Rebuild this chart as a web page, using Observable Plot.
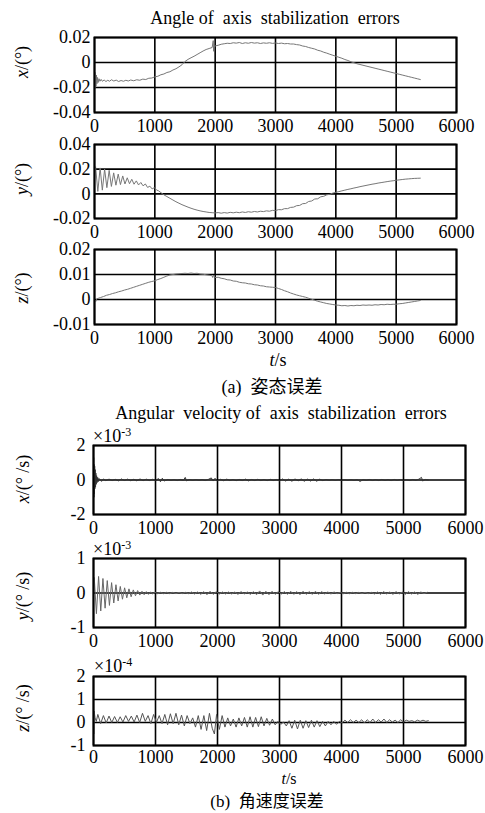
<!DOCTYPE html>
<html>
<head>
<meta charset="utf-8">
<script src="https://cdn.jsdelivr.net/npm/d3@7"></script>
<script src="https://cdn.jsdelivr.net/npm/@observablehq/plot@0.6"></script>
<style>
  html, body { margin: 0; padding: 0; background: white; }
  #root { position: relative; width: 485px; height: 813px; overflow: hidden; background: white;
          font-family: "Liberation Serif", "DejaVu Serif", serif; color: black; }
  #root svg, #root svg text { font-family: "Liberation Serif", serif !important; font-size: 18px !important; }
  .t { position: absolute; white-space: pre; transform: translate(-50%, -50%); line-height: 1; }
  .r { position: absolute; white-space: pre; transform: translate(-50%, -50%) rotate(-90deg); line-height: 1; font-size: 18px; }
  .m { position: absolute; white-space: pre; font-size: 18px; line-height: 1; transform: translateY(-50%); }
  .m sup { font-size: 12px; vertical-align: 6px; line-height: 0; }
  .cjk { font-family: "Noto Sans CJK SC", sans-serif; line-height: 1; }
  svg { position: absolute; left: 0; }
</style>
</head>
<body>
<div id="root"></div>
<script>
// ---- data (t in s, value) ----
const xTicks = [0, 1000, 2000, 3000, 4000, 5000, 6000];

const angleX = [[0,-0.013],[8,-0.021],[16,-0.008],[24,-0.019],[32,-0.010],[40,-0.017],[50,-0.012],[60,-0.016],[75,-0.013],[90,-0.015],[110,-0.0135],[130,-0.0150],[160,-0.0140],[190,-0.0152],[220,-0.0142],[250,-0.0150],[280,-0.0138],[320,-0.0148],[360,-0.0141],[400,-0.0152],[440,-0.0144],[480,-0.0150],[520,-0.0142],[560,-0.0148],[600,-0.0140],[650,-0.0146],[700,-0.0138],[750,-0.0142],[800,-0.0133],[850,-0.0136],[900,-0.0126],[950,-0.0124],[1000,-0.0115],[1050,-0.0110],[1100,-0.0098],[1150,-0.0092],[1200,-0.0080],[1250,-0.0074],[1300,-0.0060],[1350,-0.0050],[1400,-0.0035],[1450,-0.0018],[1500,0.0008],[1550,0.0025],[1600,0.0038],[1650,0.0050],[1700,0.0064],[1750,0.0078],[1800,0.0092],[1850,0.0104],[1900,0.0112],[1950,0.0120],[1968,0.0175],[1974,0.0090],[1980,0.0130],[2050,0.0138],[2100,0.0146],[2150,0.0150],[2200,0.0154],[2250,0.0152],[2300,0.0158],[2350,0.0155],[2400,0.0160],[2450,0.0152],[2500,0.0158],[2550,0.0154],[2600,0.0160],[2650,0.0155],[2700,0.0158],[2750,0.0152],[2800,0.0157],[2850,0.0154],[2900,0.0158],[2950,0.0153],[3000,0.0156],[3050,0.0152],[3100,0.0155],[3150,0.0150],[3200,0.0152],[3250,0.0148],[3300,0.0148],[3350,0.0143],[3400,0.0140],[3450,0.0132],[3500,0.0128],[3550,0.0120],[3600,0.0114],[3650,0.0108],[3700,0.0098],[3750,0.0092],[3800,0.0082],[3850,0.0075],[3900,0.0066],[3950,0.0058],[4000,0.0050],[4050,0.0042],[4100,0.0034],[4150,0.0024],[4200,0.0016],[4250,0.0006],[4300,-0.0002],[4350,-0.0010],[4400,-0.0016],[4450,-0.0022],[4500,-0.0028],[4550,-0.0034],[4600,-0.0040],[4650,-0.0046],[4700,-0.0052],[4750,-0.0058],[4800,-0.0064],[4850,-0.0070],[4900,-0.0076],[4950,-0.0082],[5000,-0.0088],[5050,-0.0094],[5100,-0.0100],[5150,-0.0106],[5200,-0.0112],[5250,-0.0118],[5300,-0.0124],[5350,-0.0130],[5400,-0.0136]];

const angleY = [[0,0.012],[18,0.022],[55,0.002],[93,0.021],[130,0.003],[168,0.020],[205,0.005],[243,0.019],[280,0.006],[318,0.017],[355,0.007],[393,0.016],[430,0.0075],[468,0.0145],[505,0.0080],[543,0.0130],[580,0.0082],[618,0.0118],[655,0.0078],[693,0.0105],[730,0.0072],[768,0.0092],[805,0.0065],[843,0.0080],[880,0.0052],[918,0.0062],[955,0.0040],[993,0.0050],[1030,0.0030],[1060,0.0025],[1100,0.0010],[1150,-0.0008],[1200,-0.0022],[1250,-0.0036],[1300,-0.0050],[1350,-0.0064],[1400,-0.0076],[1450,-0.0088],[1500,-0.0098],[1550,-0.0108],[1600,-0.0117],[1650,-0.0125],[1700,-0.0132],[1750,-0.0138],[1800,-0.0143],[1850,-0.0147],[1900,-0.0151],[1950,-0.0153],[2000,-0.0155],[2050,-0.0152],[2100,-0.0157],[2150,-0.0152],[2200,-0.0156],[2250,-0.0150],[2300,-0.0154],[2350,-0.0149],[2400,-0.0153],[2450,-0.0147],[2500,-0.0151],[2550,-0.0145],[2600,-0.0149],[2650,-0.0143],[2700,-0.0147],[2750,-0.0141],[2800,-0.0144],[2850,-0.0138],[2900,-0.0141],[2950,-0.0134],[3000,-0.0136],[3050,-0.0128],[3100,-0.0129],[3150,-0.0120],[3200,-0.0120],[3250,-0.0110],[3300,-0.0108],[3350,-0.0096],[3400,-0.0094],[3450,-0.0080],[3500,-0.0078],[3550,-0.0062],[3600,-0.0058],[3650,-0.0042],[3700,-0.0040],[3750,-0.0024],[3800,-0.0020],[3850,-0.0008],[3900,-0.0004],[3950,0.0006],[4000,0.0012],[4050,0.0018],[4100,0.0024],[4150,0.0030],[4200,0.0036],[4250,0.0041],[4300,0.0047],[4350,0.0052],[4400,0.0058],[4450,0.0063],[4500,0.0068],[4550,0.0073],[4600,0.0078],[4650,0.0082],[4700,0.0087],[4750,0.0091],[4800,0.0095],[4850,0.0099],[4900,0.0103],[4950,0.0106],[5000,0.0110],[5050,0.0113],[5100,0.0116],[5150,0.0119],[5200,0.0121],[5250,0.0123],[5300,0.0125],[5350,0.0126],[5400,0.0127]];

const angleZ = [[0,0],[20,-0.0008],[40,0.0003],[100,0.0008],[150,0.0012],[200,0.0017],[250,0.0020],[300,0.0024],[350,0.0027],[400,0.0031],[450,0.0034],[500,0.0038],[550,0.0041],[600,0.0045],[650,0.0049],[700,0.0053],[750,0.0057],[800,0.0061],[850,0.0065],[900,0.0069],[950,0.0072],[1000,0.0075],[1050,0.0080],[1100,0.0084],[1150,0.0089],[1200,0.0094],[1250,0.0098],[1300,0.0100],[1350,0.0102],[1400,0.0103],[1450,0.0104],[1500,0.0105],[1550,0.0104],[1600,0.0106],[1650,0.0104],[1700,0.0105],[1750,0.0102],[1800,0.0101],[1850,0.0099],[1900,0.0097],[1950,0.0095],[1960,0.0088],[1975,0.0098],[2000,0.0088],[2050,0.0089],[2100,0.0085],[2150,0.0083],[2200,0.0079],[2250,0.0078],[2300,0.0074],[2350,0.0073],[2400,0.0069],[2450,0.0067],[2500,0.0066],[2550,0.0063],[2600,0.0062],[2650,0.0059],[2700,0.0058],[2750,0.0055],[2800,0.0054],[2850,0.0051],[2900,0.0050],[2950,0.0049],[3000,0.0048],[3050,0.0044],[3100,0.0040],[3150,0.0035],[3200,0.0031],[3250,0.0026],[3300,0.0022],[3350,0.0018],[3400,0.0015],[3450,0.0012],[3500,0.0009],[3550,0.0005],[3600,0.0001],[3650,-0.0003],[3700,-0.0007],[3750,-0.0010],[3800,-0.0013],[3850,-0.0016],[3900,-0.0018],[3950,-0.0020],[4000,-0.0022],[4050,-0.0023],[4100,-0.0025],[4150,-0.0024],[4200,-0.0026],[4250,-0.0024],[4300,-0.0025],[4350,-0.0023],[4400,-0.0024],[4450,-0.0022],[4500,-0.0023],[4550,-0.0022],[4600,-0.0023],[4650,-0.0021],[4700,-0.0022],[4750,-0.0020],[4800,-0.0021],[4850,-0.0019],[4900,-0.0020],[4950,-0.0019],[5000,-0.0019],[5050,-0.0017],[5100,-0.0016],[5150,-0.0014],[5200,-0.0012],[5250,-0.0010],[5300,-0.0008],[5350,-0.0006],[5400,-0.0004]];

// angular velocity errors, x and y in units of 1e-3, z in units of 1e-4
const rateX = [[0,0],[3,1.3],[7,-1.0],[11,0.9],[15,-0.8],[19,0.8],[23,-0.5],[28,0.6],[33,-0.4],[38,0.4],[44,-0.25],[50,0.25],[58,-0.15],[66,0.15],[75,-0.1],[85,0.1],[100,0.05],[130,-0.08],[160,0.06],[200,-0.04],[250,0.05],[300,-0.03],[350,0.04],[400,-0.05],[450,0.06],[500,-0.03],[550,0.05],[600,-0.04],[650,0.04],[700,-0.05],[750,0.06],[800,-0.04],[850,0.05],[900,-0.03],[950,0.04],[1000,-0.02],[1050,0.08],[1080,-0.1],[1110,0.1],[1140,-0.06],[1200,0.03],[1250,-0.02],[1300,0.02],[1350,-0.03],[1400,0.03],[1450,-0.02],[1480,0.15],[1500,-0.05],[1550,0.02],[1600,-0.02],[1650,0.02],[1700,-0.02],[1750,0.02],[1800,-0.03],[1850,0.03],[1900,0.12],[1930,-0.06],[1960,0.1],[2000,-0.05],[2050,0.04],[2100,-0.04],[2150,0.05],[2200,-0.03],[2250,0.03],[2300,-0.04],[2350,0.03],[2400,-0.03],[2450,0.05],[2500,-0.05],[2550,0.03],[2600,-0.03],[2650,0.04],[2700,-0.03],[2750,0.03],[2800,-0.04],[2850,0.04],[2900,-0.03],[2950,0.03],[3000,-0.05],[3050,0.06],[3100,-0.06],[3150,0.05],[3200,-0.07],[3250,0.06],[3300,-0.05],[3350,0.06],[3400,-0.07],[3450,0.05],[3500,-0.06],[3550,0.06],[3600,-0.07],[3650,0.05],[3700,-0.04],[3750,0.03],[3800,-0.02],[3850,0.02],[3900,-0.02],[3950,0.02],[4000,-0.02],[4050,0.02],[4100,-0.02],[4150,0.02],[4200,-0.02],[4250,0.02],[4300,-0.08],[4350,0.02],[4400,-0.02],[4450,0.03],[4500,-0.03],[4550,0.02],[4600,-0.03],[4650,0.03],[4700,-0.02],[4750,0.02],[4800,-0.03],[4850,0.03],[4900,-0.02],[4950,0.03],[5000,-0.02],[5050,0.02],[5100,-0.03],[5150,0.03],[5200,-0.02],[5250,0.05],[5290,0.15],[5310,-0.06],[5350,0.03],[5400,0.0]];

const rateY = [[0,0],[12,0.45],[47,-0.6],[82,0.48],[117,-0.52],[152,0.42],[187,-0.44],[222,0.36],[257,-0.36],[292,0.30],[327,-0.29],[362,0.24],[397,-0.23],[432,0.19],[467,-0.18],[502,0.15],[537,-0.14],[572,0.12],[607,-0.11],[642,0.09],[677,-0.08],[712,0.07],[747,-0.06],[782,0.05],[817,-0.05],[852,0.04],[887,-0.04],[922,0.03],[957,-0.03],[992,0.02],[1030,-0.02],[1080,0.02],[1130,-0.02],[1180,0.02],[1230,-0.02],[1280,0.02],[1330,-0.02],[1380,0.02],[1430,-0.02],[1480,0.02],[1530,-0.02],[1580,0.03],[1630,-0.03],[1680,0.03],[1730,-0.04],[1780,0.04],[1830,-0.05],[1880,0.05],[1930,-0.04],[1980,0.04],[2030,-0.03],[2080,0.03],[2130,-0.03],[2180,0.03],[2230,-0.03],[2280,0.03],[2330,-0.04],[2380,0.04],[2430,-0.03],[2480,0.03],[2530,-0.04],[2580,0.04],[2630,-0.05],[2680,0.06],[2730,-0.06],[2780,0.05],[2830,-0.05],[2880,0.05],[2930,-0.04],[2980,0.04],[3030,-0.03],[3080,0.04],[3130,-0.04],[3180,0.05],[3230,-0.04],[3280,0.04],[3330,-0.05],[3380,0.05],[3430,-0.04],[3480,0.04],[3530,-0.04],[3580,0.05],[3630,-0.04],[3680,0.04],[3730,-0.03],[3780,0.03],[3830,-0.03],[3880,0.03],[3930,-0.02],[3980,0.02],[4030,-0.02],[4080,0.02],[4130,-0.02],[4180,0.02],[4230,-0.02],[4280,0.02],[4330,-0.02],[4380,0.02],[4430,-0.02],[4480,0.02],[4530,-0.03],[4580,0.03],[4630,-0.04],[4680,0.04],[4730,-0.03],[4780,0.03],[4830,-0.04],[4880,0.04],[4930,-0.03],[4980,0.03],[5030,-0.04],[5080,0.04],[5130,-0.03],[5180,0.03],[5230,-0.04],[5280,0.03],[5330,-0.02],[5380,0.02]];

const rateZ = [[0,0.9],[5,-0.5],[10,0.5],[25,0.2],[45,0.05],[70,0.35],[115,-0.05],[160,0.3],[205,-0.02],[250,0.28],[295,0.0],[340,0.26],[385,0.0],[430,0.25],[475,0.02],[520,0.3],[565,0.05],[610,0.28],[655,0.02],[700,0.32],[745,0.0],[790,0.4],[835,0.05],[880,0.3],[925,-0.05],[970,0.35],[1015,0.0],[1060,0.3],[1105,-0.05],[1150,0.35],[1195,-0.1],[1240,0.38],[1285,-0.05],[1330,0.4],[1375,-0.1],[1420,0.32],[1465,-0.15],[1510,0.3],[1555,-0.05],[1600,0.2],[1645,-0.2],[1690,0.3],[1735,-0.3],[1780,0.3],[1825,-0.35],[1870,0.4],[1915,-0.25],[1950,-0.5],[1985,0.35],[2030,-0.3],[2075,0.3],[2120,-0.2],[2165,0.2],[2210,-0.15],[2255,0.15],[2300,-0.2],[2345,0.2],[2390,-0.15],[2435,0.22],[2480,-0.2],[2525,0.25],[2570,-0.2],[2615,0.22],[2660,-0.18],[2705,0.25],[2750,-0.15],[2795,0.18],[2840,-0.12],[2885,0.15],[2930,-0.1],[2975,0.05],[3020,-0.08],[3065,0.02],[3110,-0.15],[3155,0.08],[3200,-0.25],[3245,0.1],[3290,-0.28],[3335,0.1],[3380,-0.25],[3425,0.08],[3470,-0.22],[3515,0.1],[3560,-0.2],[3605,0.08],[3650,-0.18],[3695,0.05],[3740,-0.15],[3785,0.05],[3830,-0.1],[3875,0.05],[3920,-0.08],[3965,0.05],[4010,-0.02],[4055,0.1],[4100,0.0],[4145,0.12],[4190,0.0],[4235,0.1],[4280,0.0],[4325,0.12],[4370,-0.02],[4415,0.12],[4460,0.0],[4505,0.15],[4550,0.0],[4595,0.12],[4640,0.02],[4685,0.15],[4730,0.0],[4775,0.12],[4820,0.02],[4865,0.1],[4910,0.0],[4955,0.12],[5000,0.02],[5045,0.1],[5090,0.05],[5135,0.08],[5180,0.03],[5225,0.1],[5270,0.05],[5315,0.1],[5360,0.05],[5400,0.08]];

const yTicksAX = [-0.04, -0.02, 0, 0.02];
const yTicksAY = [-0.02, 0, 0.02, 0.04];
const yTicksAZ = [-0.01, 0, 0.01, 0.02];
const yTicksRX = [-2, 0, 2];
const yTicksRY = [-1, 0, 1];
const yTicksRZ = [-1, 0, 1, 2];

// ---- layout ----
const root = document.getElementById("root");
function addText(html, x, y, cls, size, extra) {
  const d = document.createElement("div");
  d.className = cls;
  d.innerHTML = html;
  d.style.left = x + "px";
  d.style.top = y + "px";
  if (size) d.style.fontSize = size + "px";
  if (extra) Object.assign(d.style, extra);
  root.appendChild(d);
}

function panel(data, yTicks, g, color, ypad, xpad) {
  const mt = 8, mb = 30;
  const fmt = d => String(d);
  const svg = Plot.plot({
    width: 485,
    height: (g.bottom - g.top) + mt + mb,
    marginLeft: g.left, marginRight: 485 - g.right, marginTop: mt, marginBottom: mb,
    style: {background: "transparent", fontFamily: "Liberation Serif", fontSize: "18px", color: "black", overflow: "visible"},
    x: {domain: [0, 6000], ticks: xTicks, tickSize: 0, tickPadding: xpad, label: null, tickFormat: fmt},
    y: {domain: [yTicks[0], yTicks[yTicks.length - 1]], ticks: yTicks, tickSize: 0, tickPadding: ypad, label: null, tickFormat: fmt},
    marks: [
      Plot.ruleX(xTicks, {stroke: "black", strokeWidth: 1.6}),
      Plot.ruleY(yTicks, {stroke: "black", strokeWidth: 1.6}),
      Plot.line(data, {x: d => d[0], y: d => d[1], stroke: color, strokeWidth: 1}),
      Plot.frame({stroke: "black", strokeWidth: 2})
    ]
  });
  svg.style.top = (g.top - mt) + "px";
  svg.style.position = "absolute";
  svg.style.left = "0px";
  svg.style.maxWidth = "none";
  root.appendChild(svg);
}

panel(angleX, yTicksAX, {left: 94, right: 456, top: 37, bottom: 112}, "#777", 4, 7);
panel(angleY, yTicksAY, {left: 94, right: 456, top: 144, bottom: 218}, "#777", 4, 7);
panel(angleZ, yTicksAZ, {left: 94, right: 456, top: 249, bottom: 324}, "#777", 4, 7);
panel(rateX, yTicksRX, {left: 93, right: 465, top: 445, bottom: 514}, "#333", 8, 7);
panel(rateY, yTicksRY, {left: 93, right: 465, top: 558, bottom: 627}, "#666", 8, 7);
panel(rateZ, yTicksRZ, {left: 93, right: 465, top: 676, bottom: 745}, "#555", 8, 5);

addText("Angle of  axis  stabilization  errors", 275, 18, "t", 18);
addText("<i>x</i>/(°)", 22, 62, "r");
addText("<i>y</i>/(°)", 22, 179, "r");
addText("<i>z</i>/(°)", 22, 288, "r");
addText("<i>t</i>/s", 278, 360, "t", 18);
addText('(a)  <span class="cjk">姿态误差</span>', 272, 386, "t", 18);
addText("Angular  velocity of  axis  stabilization  errors", 281, 413, "t", 18);
addText("×10<sup>-3</sup>", 93, 436, "m");
addText("<i>x</i>/(° /s)", 23, 479, "r");
addText("×10<sup>-3</sup>", 93, 549, "m");
addText("<i>y</i>/(° /s)", 23, 596, "r");
addText("×10<sup>-4</sup>", 94, 666, "m");
addText("<i>z</i>/(° /s)", 23, 708, "r");
addText("<i>t</i>/s", 289, 779, "t", 16);
addText('(b)  <span class="cjk">角速度误差</span>', 267, 800, "t", 17);
</script>
</body>
</html>
